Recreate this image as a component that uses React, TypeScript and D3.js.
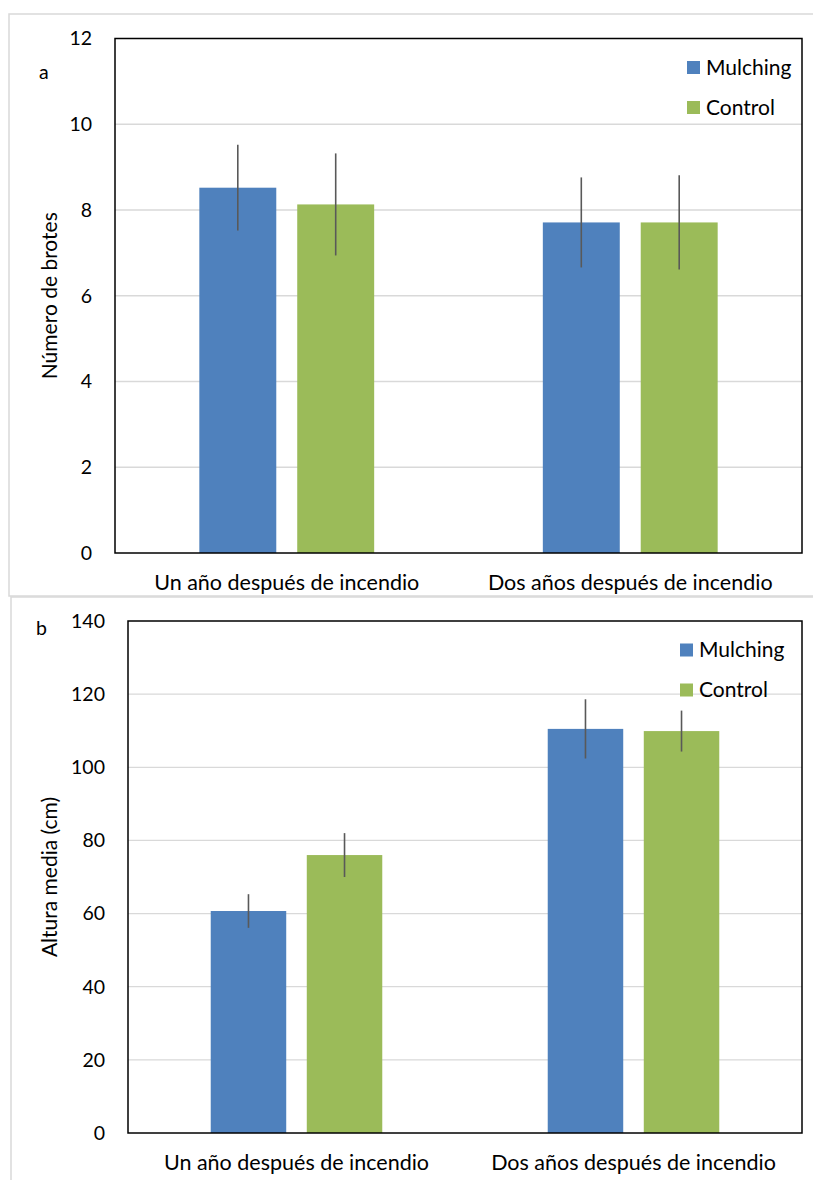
import React from 'react';
import * as d3 from 'd3';

const categories = ['Un año después de incendio', 'Dos años después de incendio'];
const series = ['Mulching', 'Control'];
const colors = ['#4f81bd', '#9bbb59'];

// panel a: número de brotes
const brotesMulching = [8.52, 7.71];
const brotesControl = [8.13, 7.71];
const brotesErrMulching = [1.0, 1.05];
const brotesErrControl = [1.19, 1.1];
const brotesTicks = [0, 2, 4, 6, 8, 10, 12];

// panel b: altura media
const alturaMulching = [60.7, 110.5];
const alturaControl = [76.0, 109.9];
const alturaErrMulching = [4.6, 8.1];
const alturaErrControl = [6.0, 5.6];
const alturaTicks = [0, 20, 40, 60, 80, 100, 120, 140];

const font = "Lato, 'Open Sans', sans-serif";

type PanelProps = {
  letter: string;
  yTitle: string;
  mulching: number[];
  control: number[];
  errM: number[];
  errC: number[];
  ticks: number[];
  left: number;
  top: number;
  right: number;
  bottom: number;
  frame: [number, number, number, number];
  letterPos: [number, number];
  legendX: number;
  legendY: number[];
};

const Panel = (p: PanelProps) => {
  const x0 = d3.scaleBand().domain(categories).range([p.left, p.right]).padding(0);
  const y = d3
    .scaleLinear()
    .domain([0, d3.max(p.ticks) as number])
    .range([p.bottom, p.top]);
  const bw = x0.bandwidth();
  const x1 = d3
    .scaleBand()
    .domain(series)
    .range([-0.285 * bw, 0.285 * bw])
    .paddingInner(0.214)
    .paddingOuter(0.107);

  const vals = [p.mulching, p.control];
  const errs = [p.errM, p.errC];

  return (
    <g>
      <rect x={p.frame[0]} y={p.frame[1]} width={p.frame[2]} height={p.frame[3]} fill="white" stroke="#d9d9d9" strokeWidth={1.5} />
      {p.ticks.map((t) => (
        <g key={t}>
          {t > 0 && t < (d3.max(p.ticks) as number) && (
            <line x1={p.left} x2={p.right} y1={y(t)} y2={y(t)} stroke="#d9d9d9" strokeWidth={1.3} />
          )}
          <text x={p.left - 23} y={y(t)} dy="0.35em" textAnchor="end" fontSize={19.5} fontFamily={font} fill="#000">
            {t}
          </text>
        </g>
      ))}
      {series.map((s, si) =>
        categories.map((c, ci) => {
          const cx = (x0(c) as number) + bw / 2;
          const bx = cx + (x1(s) as number);
          const v = vals[si][ci];
          const e = errs[si][ci];
          const mx = bx + x1.bandwidth() / 2;
          return (
            <g key={s + c}>
              <rect x={bx} y={y(v)} width={x1.bandwidth()} height={p.bottom - y(v)} fill={colors[si]} />
              <line x1={mx} x2={mx} y1={y(v + e)} y2={y(v - e)} stroke="#595959" strokeWidth={1.6} />
            </g>
          );
        })
      )}
      <rect x={p.left} y={p.top} width={p.right - p.left} height={p.bottom - p.top} fill="none" stroke="#000" strokeWidth={1.5} />
      {categories.map((c) => (
        <text key={c} x={(x0(c) as number) + bw / 2} y={p.bottom + 37} textAnchor="middle" fontSize={21.5} fontFamily={font} fill="#000">
          {c}
        </text>
      ))}
      <text
        transform={`translate(50,${(p.top + p.bottom) / 2}) rotate(-90)`}
        textAnchor="middle"
        dy="0.35em"
        fontSize={21}
        fontFamily={font}
        fill="#000"
      >
        {p.yTitle}
      </text>
      <text x={p.letterPos[0]} y={p.letterPos[1]} dy="0.35em" fontSize={19.5} fontFamily={font} fill="#000">
        {p.letter}
      </text>
      {series.map((s, si) => (
        <g key={s}>
          <rect x={p.legendX} y={p.legendY[si] - 6.5} width={13} height={13} fill={colors[si]} />
          <text x={p.legendX + 19} y={p.legendY[si]} dy="0.35em" fontSize={21} fontFamily={font} fill="#000">
            {s}
          </text>
        </g>
      ))}
    </g>
  );
};

export default function App() {
  return (
    <svg width={813} height={1180} style={{ position: 'absolute', left: 0, top: 0, background: 'white' }}>
      <Panel
        letter="a"
        yTitle="Número de brotes"
        mulching={brotesMulching}
        control={brotesControl}
        errM={brotesErrMulching}
        errC={brotesErrControl}
        ticks={brotesTicks}
        left={115}
        top={38.5}
        right={802}
        bottom={553}
        frame={[9, 14, 820, 582]}
        letterPos={[39, 72]}
        legendX={687}
        legendY={[67.5, 107.5]}
      />
      <Panel
        letter="b"
        yTitle="Altura media (cm)"
        mulching={alturaMulching}
        control={alturaControl}
        errM={alturaErrMulching}
        errC={alturaErrControl}
        ticks={alturaTicks}
        left={128}
        top={621}
        right={802}
        bottom={1133}
        frame={[11, 597, 820, 600]}
        letterPos={[36, 628]}
        legendX={680}
        legendY={[650, 690]}
      />
    </svg>
  );
}
